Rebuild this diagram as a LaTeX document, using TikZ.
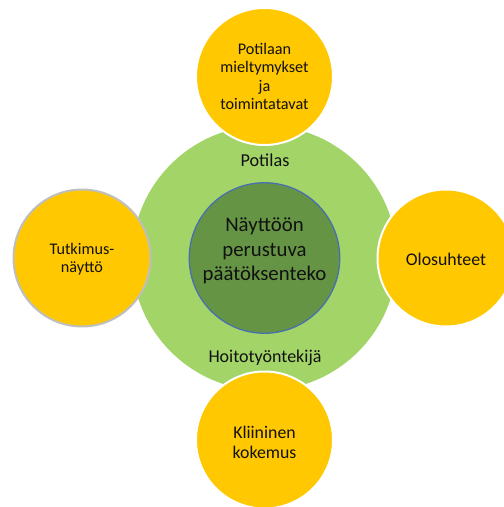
\documentclass[tikz,border=0pt]{standalone}
\usepackage{fontspec}
\setmainfont{Carlito}
\definecolor{petal}{HTML}{FFC800}
\definecolor{ring}{HTML}{A2D468}
\definecolor{core}{HTML}{659544}
\definecolor{coreline}{HTML}{4A6FB0}
\definecolor{ink}{HTML}{111111}
\begin{document}
\begin{tikzpicture}[x=1pt,y=-1pt,
  petalbox/.style={circle, fill=petal, draw=white, line width=2pt, minimum size=137pt, inner sep=0pt},
  txt/.style={text=ink, align=center, inner sep=0pt},
  small/.style={txt, font=\fontsize{16.2}{18.3}\selectfont},
  mid/.style={txt, font=\fontsize{17.8}{20}\selectfont},
  big/.style={txt, font=\fontsize{20.8}{24.5}\selectfont}]
  \useasboundingbox (0,0) rectangle (504,507);
  % outer ring and centre
  \node[circle, fill=ring, minimum size=265pt, inner sep=0pt] (ringc) at (264.5,258) {};
  \node[circle, fill=core, draw=coreline, line width=1.3pt, minimum size=150.5pt, inner sep=0pt] (corec) at (264.5,258) {};
  \node[big] (coretxt) at (264.5,251) {Näyttöön\\perustuva\\päätöksenteko};
  \node[mid, font=\fontsize{18.2}{20}\selectfont] (lbltop) at (265,160.5) {Potilas};
  \node[mid, font=\fontsize{18}{20}\selectfont] (lblbot) at (265,358) {Hoitotyöntekijä};
  % four surrounding circles
  \node[petalbox] (ptop) at (264.5,76.5) {};
  \node[petalbox] (pbot) at (264.5,440) {};
  \node[petalbox] (pright) at (446,258) {};
  \node[petalbox, draw=black!25] (pleft) at (82,258) {};
  \node[small] (ttop) at (ptop) {Potilaan\\mieltymykset\\ja\\toimintatavat};
  \node[small] (tleft) at (82,259) {Tutkimus-\\näyttö};
  \node[mid] (tright) at (446,259) {Olosuhteet};
  \node[mid] (tbot) at (264.5,442) {Kliininen\\kokemus};
\end{tikzpicture}
\end{document}
